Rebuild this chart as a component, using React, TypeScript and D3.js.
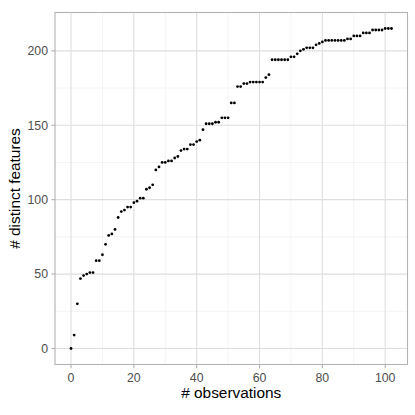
import React from "react";
import * as d3 from "d3";

// distinct features seen after n observations (n = 0..102)
const observations = d3.range(0, 103);
const distinctFeatures = [
  0, 9, 30, 47, 49, 50, 51, 51, 59, 59,
  63, 70, 76, 77, 80, 88, 92, 93, 95, 95,
  98, 99, 101, 101, 107, 108, 110, 120, 122, 125,
  125, 126, 126, 128, 129, 133, 134, 134, 137, 137,
  139, 140, 147, 151, 151, 151, 152, 152, 155, 155,
  155, 165, 165, 176, 176, 178, 178, 179, 179, 179,
  179, 179, 182, 184, 194, 194, 194, 194, 194, 194,
  196, 196, 198, 200, 201, 202, 202, 202, 204, 205,
  206, 207, 207, 207, 207, 207, 207, 207, 208, 208,
  210, 210, 210, 212, 212, 212, 214, 214, 214, 214,
  215, 215, 215,
];
const xTicks = [0, 20, 40, 60, 80, 100];
const yTicks = [0, 50, 100, 150, 200];
const xMinor = [10, 30, 50, 70, 90];
const yMinor = [25, 75, 125, 175];

const W = 415;
const H = 415;
const panel = { left: 55, right: 407.5, top: 12.5, bottom: 364.5 };

export default function App() {
  const xMax = d3.max(observations) as number;
  const yMax = d3.max(distinctFeatures) as number;
  const xPad = xMax * 0.05;
  const yPad = yMax * 0.05;

  const x = d3
    .scaleLinear()
    .domain([-xPad, xMax + xPad])
    .range([panel.left, panel.right]);
  const y = d3
    .scaleLinear()
    .domain([-yPad, yMax + yPad])
    .range([panel.bottom, panel.top]);

  const font = "Liberation Sans, Arial, sans-serif";

  return (
    <svg
      width={W}
      height={H}
      style={{ position: "absolute", left: 0, top: 0, background: "#fff" }}
    >
      {/* minor grid */}
      {xMinor.map((t) => (
        <line key={"xm" + t} x1={x(t)} x2={x(t)} y1={panel.top} y2={panel.bottom}
          stroke="#ebebeb" strokeWidth={0.55} />
      ))}
      {yMinor.map((t) => (
        <line key={"ym" + t} x1={panel.left} x2={panel.right} y1={y(t)} y2={y(t)}
          stroke="#ebebeb" strokeWidth={0.55} />
      ))}
      {/* major grid */}
      {xTicks.map((t) => (
        <line key={"xg" + t} x1={x(t)} x2={x(t)} y1={panel.top} y2={panel.bottom}
          stroke="#dedede" strokeWidth={1.1} />
      ))}
      {yTicks.map((t) => (
        <line key={"yg" + t} x1={panel.left} x2={panel.right} y1={y(t)} y2={y(t)}
          stroke="#dedede" strokeWidth={1.1} />
      ))}

      {/* points */}
      {observations.map((o, i) => (
        <circle key={i} cx={x(o)} cy={y(distinctFeatures[i])} r={1.4} fill="#000" />
      ))}

      {/* panel border */}
      <rect x={panel.left} y={panel.top} width={panel.right - panel.left}
        height={panel.bottom - panel.top} fill="none" stroke="#b3b3b3" strokeWidth={1.1} />

      {/* x axis */}
      {xTicks.map((t) => (
        <g key={"xt" + t}>
          <line x1={x(t)} x2={x(t)} y1={panel.bottom} y2={panel.bottom + 3.7}
            stroke="#b3b3b3" strokeWidth={1.1} />
          <text x={x(t)} y={panel.bottom + 17} textAnchor="middle"
            fontFamily={font} fontSize={12.3} fill="#4d4d4d">{t}</text>
        </g>
      ))}
      {/* y axis */}
      {yTicks.map((t) => (
        <g key={"yt" + t}>
          <line x1={panel.left - 3.7} x2={panel.left} y1={y(t)} y2={y(t)}
            stroke="#b3b3b3" strokeWidth={1.1} />
          <text x={panel.left - 7} y={y(t) + 4.3} textAnchor="end"
            fontFamily={font} fontSize={12.3} fill="#4d4d4d">{t}</text>
        </g>
      ))}

      <text x={(panel.left + panel.right) / 2} y={398} textAnchor="middle"
        fontFamily={font} fontSize={15.4} fill="#000"># observations</text>
      <text transform={`translate(20,${(panel.top + panel.bottom) / 2}) rotate(-90)`}
        textAnchor="middle" fontFamily={font} fontSize={15.4} fill="#000">
        # distinct features
      </text>
    </svg>
  );
}
